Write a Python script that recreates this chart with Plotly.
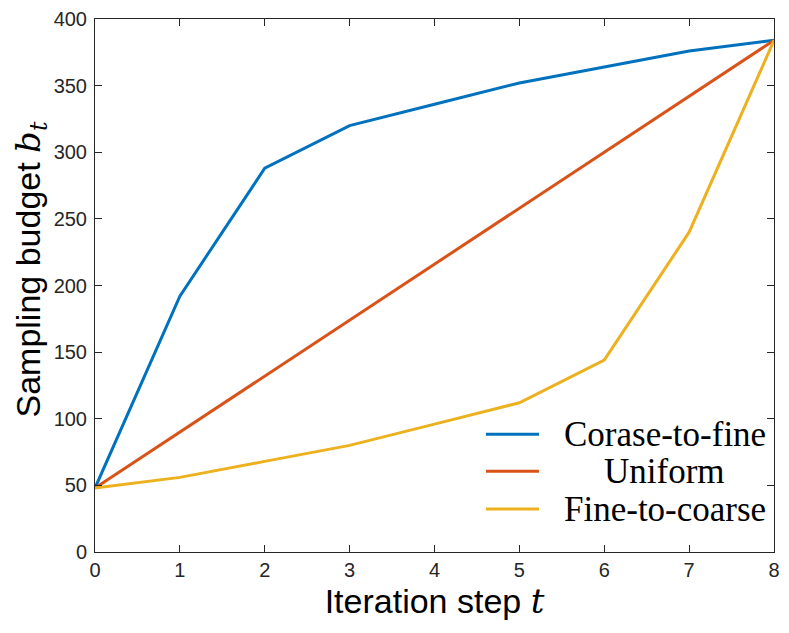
import plotly.graph_objects as go

steps = [0, 1, 2, 3, 4, 5, 6, 7, 8]
coarse_to_fine = [48, 192, 288, 320, 336, 352, 364, 376, 384]
uniform = [48, 90, 132, 174, 216, 258, 300, 342, 384]
fine_to_coarse = [48, 56, 68, 80, 96, 112, 144, 240, 384]
series_names = ["Corase-to-fine", "Uniform", "Fine-to-coarse"]
colors = ["#0072BD", "#D95319", "#EDB120"]
x_ticks = [0, 1, 2, 3, 4, 5, 6, 7, 8]
y_ticks = [0, 50, 100, 150, 200, 250, 300, 350, 400]

fig = go.Figure()
for name, vals, c in zip(series_names, [coarse_to_fine, uniform, fine_to_coarse], colors):
    fig.add_trace(go.Scatter(x=steps, y=vals, mode="lines", name=name,
                             line=dict(color=c, width=3), showlegend=False))

# manual legend (centered text like MATLAB)
leg_y = [0.221, 0.1517, 0.0805]
for name, c, yy in zip(series_names, colors, leg_y):
    fig.add_shape(type="line", xref="paper", yref="paper", x0=0.5758, x1=0.6539,
                  y0=yy, y1=yy, line=dict(color=c, width=3))
    fig.add_annotation(text=name, xref="paper", yref="paper", x=0.839, y=yy,
                       xanchor="center", yanchor="middle", showarrow=False,
                       font=dict(family="Liberation Serif", size=35, color="#000000"))

axis_common = dict(showline=True, linecolor="#262626", linewidth=1, mirror="ticks",
                   ticks="inside", ticklen=7, tickcolor="#262626", showgrid=False,
                   zeroline=False, automargin=False, ticklabeloverflow="allow",
                   tickfont=dict(family="Liberation Sans", size=20, color="#262626"))

fig.update_xaxes(range=[0, 8], tickvals=x_ticks, **axis_common,
                 title=dict(text="Iteration step <span style=\"font-family:'DejaVu Serif'\"><i>t</i></span>",
                            font=dict(family="Liberation Sans", size=34, color="#000000"), standoff=0))
fig.update_yaxes(range=[0, 400], tickvals=y_ticks, ticklabelstandoff=3, **axis_common)

# y-axis title as rotated annotation (MATLAB centers it slightly above mid-plot)
fig.add_annotation(text="Sampling budget <span style=\"font-family:'DejaVu Serif'\"><i>b<sub>t</sub></i></span>",
                   xref="paper", yref="paper", x=-0.0957, y=0.53, textangle=-90,
                   xanchor="center", yanchor="middle", showarrow=False,
                   font=dict(family="Liberation Sans", size=34, color="#000000"))

fig.update_layout(width=789, height=633, margin=dict(l=87, r=23, t=11, b=89),
                  plot_bgcolor="white", paper_bgcolor="white")
fig.write_html("out.html")
